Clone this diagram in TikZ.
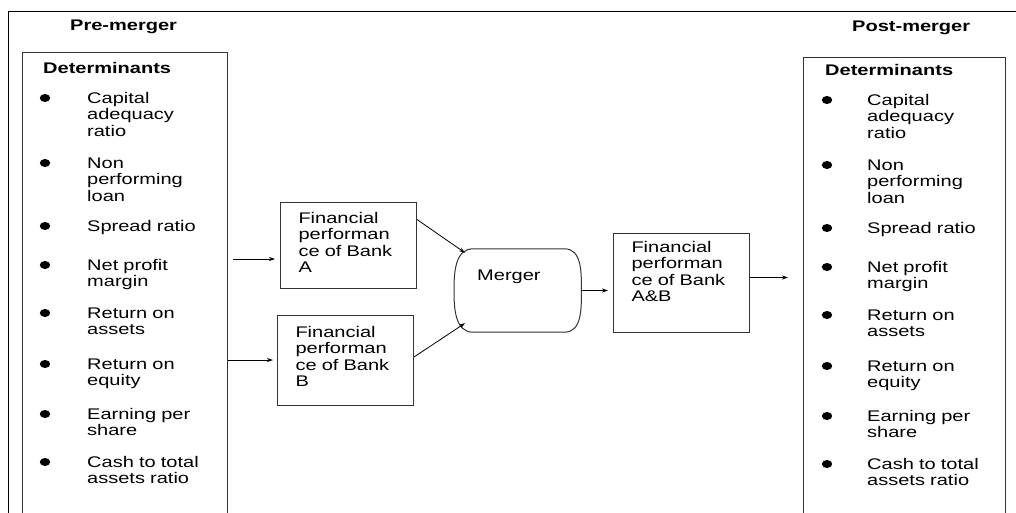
\documentclass[tikz,border=0pt]{standalone}
\usepackage{fontspec}
\setmainfont[FakeStretch=1.3]{Liberation Sans}
\usetikzlibrary{positioning,arrows.meta}

\begin{document}
\begin{tikzpicture}[x=1pt,y=-1pt,
  every node/.style={font=\fontsize{15.4}{16.5}\selectfont,inner sep=0pt},
  listbox/.style={draw=black!80,line width=1.2pt,minimum width=#1,minimum height=480pt,anchor=north west},
  fpbox/.style={draw=black!80,line width=1pt,anchor=base west,text width=100pt,align=left,inner xsep=18pt,inner ysep=0pt},
  item/.style={anchor=base west,text width=140pt,align=left},
  arr/.style={-{Stealth[length=6pt,width=4pt]},line width=0.8pt}]
  \useasboundingbox (0,0) rectangle (1016,512);
  \clip (0,0) rectangle (1016,512);
  \draw[line width=0.8pt] (8,520) -- (8,11) -- (1020,11);
  \node[anchor=base west] (pretitle) at (70,30) {\bfseries Pre-merger};
  \node[anchor=base west] (posttitle) at (852,31) {\bfseries Post-merger};
  \node[listbox=205pt] (pre) at (22,52) {};
  \node[listbox=202pt] (post) at (803,57) {};
  \node[anchor=base west] (predet) at (43,73) {\bfseries Determinants};
  \node[anchor=base west] (postdet) at (825,75) {\bfseries Determinants};
  \foreach \yy/\txt [count=\i] in {98/{Capital\\adequacy\\ratio},163/{Non\\performing\\loan},
      226/{Spread ratio},265/{Net profit\\margin},313/{Return on\\assets},364/{Return on\\equity},
      414/{Earning per\\share},462/{Cash to total\\assets ratio}}{
    \fill (45,\yy) ellipse [x radius=5.2pt,y radius=4pt];
    \node[item] (pl\i) at (87,\yy+5) {\txt};
    \fill (827,\yy+2) ellipse [x radius=5.2pt,y radius=4pt];
    \node[item] (pr\i) at (867,\yy+7) {\txt};
  }
  \node[fpbox,text height=21pt,text depth=65pt] (bankA) at (280,223) {Financial\\performan\\ce of Bank\\A};
  \node[fpbox,text height=22pt,text depth=68pt] (bankB) at (277,337) {Financial\\performan\\ce of Bank\\B};
  \node[fpbox,text height=19pt,text depth=80pt] (bankAB) at (613,252) {Financial\\performan\\ce of Bank\\A\&B};
  \node[anchor=base west,text width=81pt,align=left,inner xsep=23pt,text height=31pt,text depth=52pt] (merger) at (454,280) {Merger};
  \draw[line width=1pt,black!80] ([xshift=19pt]merger.north west) -- ([xshift=-17pt]merger.north east)
    to[out=0,in=90] (merger.east) to[out=-90,in=0] ([xshift=-17pt]merger.south east)
    -- ([xshift=19pt]merger.south west) to[out=180,in=-90] (merger.west) to[out=90,in=180] cycle;
  \coordinate (inA) at (233,259);
  \draw[arr,shorten >=5pt] (inA) -- (inA -| bankA.west);
  \draw[arr,shorten >=4pt] (bankB.west -| pre.east) -- (bankB.west);
  \draw[arr] ([yshift=-18pt]bankA.north east) -- ([xshift=11pt,yshift=-4pt]merger.north west);
  \draw[arr] ([yshift=3pt]bankB.east) -- ([xshift=11pt,yshift=9pt]merger.south west);
  \draw[arr,shorten >=5pt] (merger.east) -- (merger.east -| bankAB.west);
  \draw[arr,shorten >=15pt] ([yshift=5pt]bankAB.east) -- ([yshift=5pt]bankAB.east -| post.west);
\end{tikzpicture}
\end{document}
